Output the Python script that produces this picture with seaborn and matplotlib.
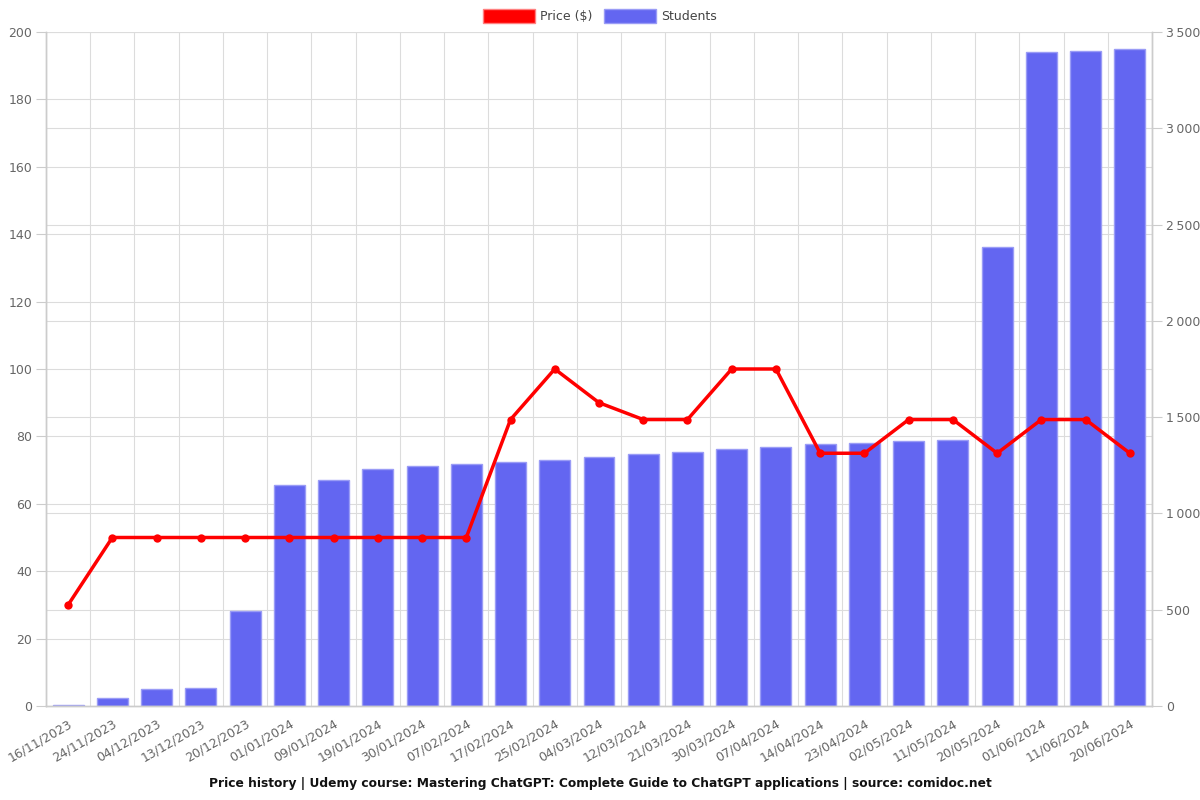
import numpy as np
import pandas as pd
import matplotlib
matplotlib.use("Agg")
import matplotlib.pyplot as plt
import seaborn as sns
from matplotlib.patches import Patch
from matplotlib.ticker import FuncFormatter, MultipleLocator

dates = ["16/11/2023", "24/11/2023", "04/12/2023", "13/12/2023", "20/12/2023",
         "01/01/2024", "09/01/2024", "19/01/2024", "30/01/2024", "07/02/2024",
         "17/02/2024", "25/02/2024", "04/03/2024", "12/03/2024", "21/03/2024",
         "30/03/2024", "07/04/2024", "14/04/2024", "23/04/2024", "02/05/2024",
         "11/05/2024", "20/05/2024", "01/06/2024", "11/06/2024", "20/06/2024"]
price = [30, 50, 50, 50, 50, 50, 50, 50, 50, 50,
         85, 100, 90, 85, 85, 100, 100, 75, 75, 85,
         85, 75, 85, 85, 75]
students = [3, 42, 88, 92, 493, 1148, 1174, 1231, 1246, 1257,
            1265, 1275, 1293, 1309, 1319, 1335, 1343, 1359, 1364, 1374,
            1379, 2382, 3398, 3400, 3412]

df = pd.DataFrame({"date": dates, "price": price, "students": students,
                   "idx": np.arange(len(dates))})

sns.set_style("white")
plt.rcParams['font.family'] = ['DejaVu Sans']

fig = plt.figure(figsize=(12, 8), dpi=100)
ax = fig.add_axes([46/1200, 94/800, (1152-46)/1200, (706-32)/800])
ax2 = ax.twinx()

grid_c = "#dcdcdc"
tick_c = "#666666"

# bars on right axis
sns.barplot(data=df, x="idx", y="students", ax=ax2, color="#6366F1",
            saturation=1, width=0.7, edgecolor="#9a9cf6", linewidth=1, zorder=2)
ax2.set_ylim(0, 3500)
ax2.yaxis.set_major_locator(MultipleLocator(500))
ax2.yaxis.set_major_formatter(FuncFormatter(
    lambda v, p: f"{int(v):,}".replace(",", "\u2009")))

# line on left axis
sns.lineplot(data=df, x="idx", y="price", ax=ax, color="#FF0000", linewidth=2.5,
             marker="o", markersize=6, markeredgewidth=0, sort=False, zorder=5)
ax.set_ylim(0, 200)
ax.yaxis.set_major_locator(MultipleLocator(20))

ax.set_zorder(ax2.get_zorder() + 1)
ax.patch.set_visible(False)
ax2.patch.set_visible(True)
ax2.patch.set_facecolor("white")

n = len(dates)
for a in (ax, ax2):
    a.set_xlim(-0.5, n - 0.5)
    a.set_xlabel("")
    a.set_ylabel("")
    for s in a.spines.values():
        s.set_color("#cccccc")
        s.set_linewidth(1)
    a.spines["top"].set_visible(False)

# grids drawn on the back axis
for b in np.arange(-0.5, n, 1.0):
    ax2.axvline(b, color=grid_c, linewidth=0.8, zorder=0)
for v in np.arange(20, 201, 20):
    ax2.axhline(v * 3500 / 200, color=grid_c, linewidth=0.8, zorder=0)
for v in np.arange(500, 3501, 500):
    ax2.axhline(v, color=grid_c, linewidth=0.8, zorder=0)

ax.set_xticks(np.arange(n))
ax.set_xticklabels(dates, rotation=30, ha="right", rotation_mode="anchor",
                   fontsize=9, color=tick_c)
ax.tick_params(axis="x", length=0, pad=8)
ax2.tick_params(axis="x", length=0, labelbottom=False)
ax.set_xticks(np.arange(-0.5, n, 1.0), minor=True)
ax.tick_params(axis="x", which="minor", length=6, color="#cccccc")
ax.tick_params(axis="y", labelsize=9, labelcolor=tick_c, length=7, pad=3, color="#cccccc")
ax2.tick_params(axis="y", labelsize=9, labelcolor=tick_c, length=7, pad=3, color="#cccccc")

handles = [Patch(facecolor="#FF0000", edgecolor="#ff8080", label="Price ($)"),
           Patch(facecolor="#6366F1", edgecolor="#9a9cf6", label="Students")]
fig.legend(handles=handles, loc="center", bbox_to_anchor=(0.5, 1 - 16/800),
           ncol=2, frameon=False, fontsize=9, handlelength=4.2, handleheight=1.3,
           columnspacing=0.9, handletextpad=0.4, labelcolor="#444444")

fig.text(0.5, 1 - 783/800,
         "Price history | Udemy course: Mastering ChatGPT: Complete Guide to ChatGPT applications | source: comidoc.net",
         ha="center", va="center", fontsize=8.8, fontweight="bold", color="#111111")

fig.savefig("out.png", dpi=100)
